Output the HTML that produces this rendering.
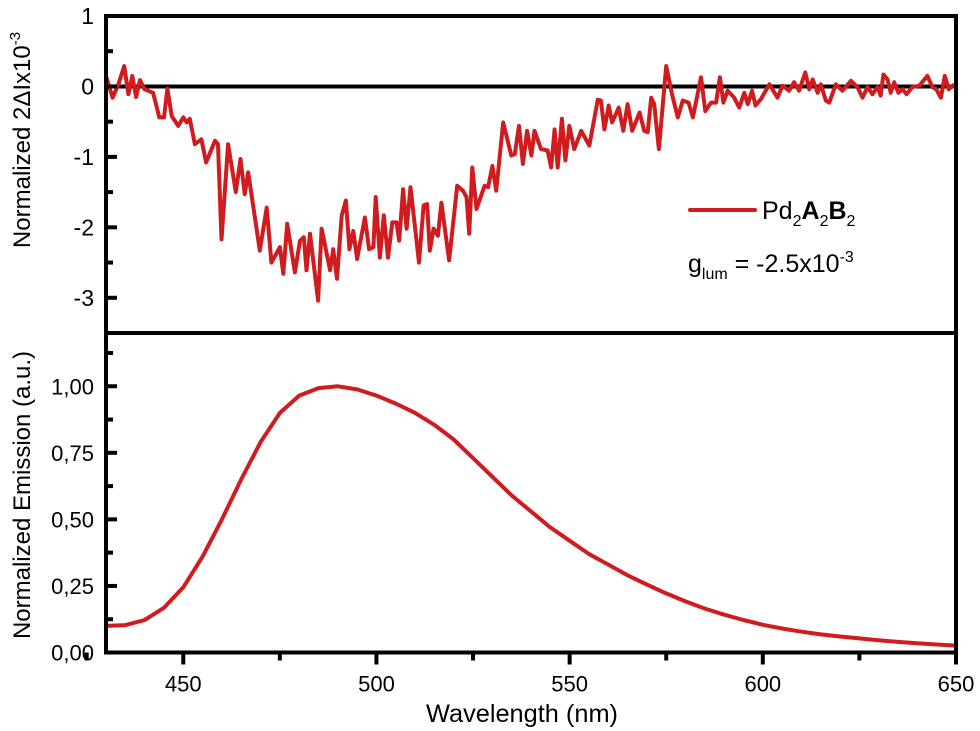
<!DOCTYPE html>
<html><head><meta charset="utf-8">
<style>
html,body{margin:0;padding:0;background:#fff;}
svg{display:block;font-family:"Liberation Sans",Arial,sans-serif;}
</style></head>
<body>
<svg id="chart" width="980" height="731" viewBox="0 0 980 731">
<g id="top-panel"></g>
<g id="bottom-panel"></g>
<g id="frames"></g>
<g id="labels"></g>
<text x="522" y="722" font-size="25" text-anchor="middle" textLength="192" lengthAdjust="spacingAndGlyphs">Wavelength (nm)</text>
<text transform="translate(30,140) rotate(-90)" font-size="24" text-anchor="middle">Normalized 2ΔIx10<tspan font-size="15" dy="-10">-3</tspan></text>
<text transform="translate(30,495) rotate(-90)" font-size="24" text-anchor="middle">Normalized Emission (a.u.)</text>
<g>
<line x1="690" y1="210" x2="755" y2="210" stroke="#d01c1f" stroke-width="4" stroke-linecap="round"/>
<text x="762" y="219" font-size="25">Pd<tspan font-size="16" dy="7">2</tspan><tspan font-weight="bold" dy="-7">A</tspan><tspan font-size="16" dy="7">2</tspan><tspan font-weight="bold" dy="-7">B</tspan><tspan font-size="16" dy="7">2</tspan></text>
<text x="688" y="272" font-size="25">g<tspan font-size="16" dy="7">lum</tspan><tspan dy="-7"> = -2.5x10</tspan><tspan font-size="16" dy="-10">-3</tspan></text>
</g>
</svg>
<script>
const cplWl=[430,431.7,433.2,434.7,435.8,436.8,437.8,438.8,440,442.2,443.8,445,445.9,447,448.7,450,450.9,451.7,453,454.7,455.9,458.2,459,459.9,461.6,463.6,464.8,465.9,466.8,469.8,471.6,472.8,475,475.9,476.9,478.9,480.2,481.2,481.9,482.8,484.9,485.8,488,488.8,489.8,491,492.1,493,494,495,497,498.1,499.2,499.8,500.9,501.9,503,504.1,505.2,505.9,506.9,507.8,508.8,511,512.2,513.1,513.8,514.8,515.9,516.8,518.8,520.9,522.4,523.3,524,524.8,525.9,528,528.9,530,531,532.8,534.9,535.8,536.9,537.9,539,540.1,540.9,542.6,544.3,545.2,546.1,546.9,548,548.9,549.9,551.2,553,555.1,557.3,558.1,559,560.1,561,562.7,563.9,565,566.2,568.1,569.3,570.2,571.1,571.9,573.1,575,576.5,578,579.3,580.8,581.9,584,585.1,586.6,587.9,588.9,589.8,590.9,592.6,593.9,595.2,596.1,597.2,598.1,599.5,601.7,603.8,605.1,606.8,608.1,609.4,611,612,612.9,614.2,615,616.3,617.2,618.9,620.6,622.8,624.5,625.8,627.1,628.4,629.7,630.5,631.2,632.3,633.1,634,635.1,636.2,637.2,638.7,640.5,642.6,643.9,644.9,646.1,647.1,648.1,649.5];
const cplVal=[0.15,-0.16,0.03,0.29,-0.11,0.15,-0.15,0.09,-0.04,-0.09,-0.44,-0.44,-0.03,-0.42,-0.56,-0.44,-0.51,-0.46,-0.82,-0.75,-1.08,-0.77,-0.82,-2.17,-0.82,-1.5,-1.03,-1.53,-1.22,-2.33,-1.72,-2.5,-2.28,-2.66,-1.95,-2.64,-2.19,-2.14,-2.61,-2.09,-3.04,-2.02,-2.61,-2.31,-2.73,-1.83,-1.62,-2.31,-2.05,-2.45,-1.86,-2.31,-2.28,-1.57,-2.43,-1.83,-2.43,-1.93,-1.93,-2.19,-1.46,-2.02,-1.43,-2.5,-1.69,-1.67,-2.33,-2.02,-2.12,-1.65,-2.47,-1.41,-1.48,-1.57,-2.09,-1.15,-1.74,-1.41,-1.43,-1.13,-1.48,-0.51,-0.98,-0.96,-0.56,-1.1,-0.63,-0.98,-0.63,-0.89,-0.91,-1.15,-0.61,-1.15,-0.46,-1.05,-0.56,-0.89,-0.63,-0.84,-0.19,-0.2,-0.61,-0.27,-0.51,-0.3,-0.63,-0.25,-0.63,-0.37,-0.63,-0.65,-0.16,-0.25,-0.89,0.29,-0.11,-0.44,-0.2,-0.23,-0.44,0.13,-0.35,-0.23,-0.23,0.13,-0.23,-0.06,-0.16,-0.3,-0.09,-0.25,-0.06,-0.27,-0.18,0.03,-0.16,0.01,-0.06,0.06,-0.06,0.2,-0.04,0.1,-0.09,0.03,-0.2,-0.23,0.03,-0.06,0.08,-0.01,-0.16,-0.01,-0.11,-0.01,-0.13,0.17,0.1,-0.09,0.06,-0.09,-0.04,-0.11,-0.01,0.01,0.15,-0.01,-0.04,-0.16,0.15,-0.04,0.03];
const emWl=[430,435,440,445,450,455,460,465,470,475,480,485,490,495,500,505,510,515,520,525,530,535,540,545,550,555,560,565,570,575,580,585,590,595,600,605,610,615,620,625,630,635,640,645,650];
const emVal=[0.10,0.103,0.122,0.168,0.245,0.36,0.50,0.65,0.79,0.90,0.965,0.993,1.0,0.988,0.965,0.935,0.90,0.855,0.80,0.73,0.66,0.59,0.53,0.47,0.42,0.37,0.33,0.29,0.255,0.222,0.192,0.165,0.142,0.122,0.104,0.09,0.078,0.068,0.06,0.053,0.046,0.04,0.035,0.03,0.026];
const xTicks=[450,500,550,600,650];
const topYTicks=[1,0,-1,-2,-3];
const botYTicks=[0,0.25,0.5,0.75,1.0];
const botYLabels=["0,00","0,25","0,50","0,75","1,00"];

const NS="http://www.w3.org/2000/svg";
const L=106,R=956,T1=16,B1=333,T2=333,B2=652.5;
const xS=w=>L+(w-430)/(650-430)*(R-L);
const yTop=v=>T1+(1-v)/(4.5)*(B1-T1);
const yBot=v=>B2-v/1.2*(B2-T2);
function mk(tag,attrs,parent){const e=document.createElementNS(NS,tag);for(const k in attrs)e.setAttribute(k,attrs[k]);parent.appendChild(e);return e;}
const topG=document.getElementById('top-panel'),botG=document.getElementById('bottom-panel'),fr=document.getElementById('frames'),lab=document.getElementById('labels');
const RED="#d01c1f";

const zl=mk('line',{x1:L,x2:R,y1:yTop(0),y2:yTop(0),stroke:'#000','stroke-width':4},topG);



let d=cplWl.map((w,i)=>(i?'L':'M')+xS(w).toFixed(1)+','+yTop(cplVal[i]).toFixed(1)).join('');
const cp=mk('path',{d:d,fill:'none',stroke:RED,'stroke-width':4,'stroke-linejoin':'round'},topG);



d=emWl.map((w,i)=>(i?'L':'M')+xS(w).toFixed(1)+','+yBot(emVal[i]).toFixed(1)).join('');
const ep=mk('path',{d:d,fill:'none',stroke:RED,'stroke-width':4,'stroke-linejoin':'round'},botG);



const f1=mk('rect',{x:L,y:T1,width:R-L,height:B1-T1,fill:'none',stroke:'#000','stroke-width':4},fr);


const f2=mk('rect',{x:L,y:T2,width:R-L,height:B2-T2,fill:'none',stroke:'#000','stroke-width':4},fr);



topYTicks.forEach(v=>{
  const y=yTop(v);
  const t=mk('line',{x1:L,x2:L+11,y1:y,y2:y,stroke:'#000','stroke-width':4},fr);
  
  
  const tx=mk('text',{x:L-12,y:y+8,'font-size':23,'text-anchor':'end'},lab);
  tx.textContent=String(v);
  
  
  const m=mk('line',{x1:L,x2:L+7,y1:yTop(v-0.5),y2:yTop(v-0.5),stroke:'#000','stroke-width':4},fr);
  
  
});
botYTicks.forEach((v,i)=>{
  const y=yBot(v);
  const t=mk('line',{x1:L,x2:L+11,y1:y,y2:y,stroke:'#000','stroke-width':4},fr);
  
  
  const tx=mk('text',{x:L-12,y:y+8,'font-size':22,'text-anchor':'end'},lab);
  tx.textContent=botYLabels[i];
  
  
  const m=mk('line',{x1:L,x2:L+7,y1:yBot(v+0.125),y2:yBot(v+0.125),stroke:'#000','stroke-width':4},fr);
  
  
});
xTicks.forEach(w=>{
  const x=xS(w);
  const t=mk('line',{x1:x,x2:x,y1:B2,y2:B2+12,stroke:'#000','stroke-width':4},fr);
  
  
  const m=mk('line',{x1:xS(w-25),x2:xS(w-25),y1:B2,y2:B2+8,stroke:'#000','stroke-width':4},fr);
  
  
  const tx=mk('text',{x:x,y:B2+39,'font-size':22,'text-anchor':'middle'},lab);
  tx.textContent=String(w);
  
  
});
</script>
</body></html>
